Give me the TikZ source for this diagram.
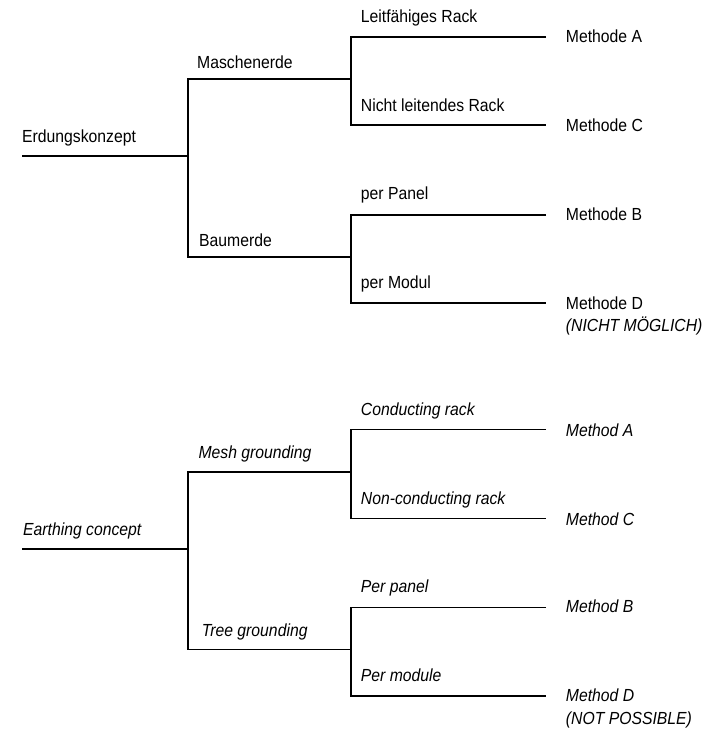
\documentclass[tikz,border=0pt]{standalone}
\usepackage{fontspec}
\setmainfont{Liberation Sans}[FakeStretch=0.9]
\usepackage{tikz}
\usetikzlibrary{positioning}

\tikzset{
  tree line/.style={line width=1.6pt, line join=miter},
  label text/.style={anchor=base west, inner sep=0pt, font=\fontsize{17.5}{20}\selectfont},
  label en/.style={label text, font=\fontsize{17.5}{20}\selectfont\itshape}
}

\begin{document}
\begin{tikzpicture}[x=1pt,y=1pt,yscale=-1]
\useasboundingbox (0,0) rectangle (727,733);

%German tree: junction points
\coordinate (ek) at (22,155.7);
\coordinate (ekJ) at (188,155.7);
\coordinate (me) at (188,79);
\coordinate (meJ) at (351,79);
\coordinate (bm) at (188,257);
\coordinate (bmJ) at (351,257);
\coordinate (lr) at (351,37);
\coordinate (lrE) at (546,37);
\coordinate (nl) at (351,125);
\coordinate (nlE) at (546,125);
\coordinate (pp) at (351,215);
\coordinate (ppE) at (546,215);
\coordinate (pm) at (351,303);
\coordinate (pmE) at (546,303);

%Straight Lines
\draw [tree line] (ek) -- (ekJ);
\draw [tree line] (meJ) -- (me) -- (bm) -- (bmJ);
\draw [tree line] (lrE) -- (lr) -- (nl) -- (nlE);
\draw [tree line] (ppE) -- (pp) -- (pm) -- (pmE);

% Text Node
\node [label text] (erdung) at (22,142.5) {Erdungskonzept};
\node [label text] (masch) at (197,68.3) {Maschenerde};
\node [label text] (baum) at (199,246.7) {Baumerde};
\node [label text] (leitf) at (360.7,22.7) {Leitfähiges Rack};
\node [label text] (nichtl) at (360.7,111.7) {Nicht leitendes Rack};
\node [label text] (perpan) at (360.7,199) {per Panel};
\node [label text] (permod) at (360.7,288.3) {per Modul};
\node [label text] (methA) at (565.7,42.3) {Methode A};
\node [label text] (methC) at (565.7,131.7) {Methode C};
\node [label text] (methB) at (565.7,220.7) {Methode B};
\node [label text] (methD) at (565.7,309.3) {Methode D};
\node [label en] (nichtm) at ([yshift=22.6pt]methD.base west) {(NICHT MÖGLICH)};

%English tree: junction points
\coordinate (ec) at (22,549);
\coordinate (ecJ) at (188,549);
\coordinate (mg) at (188,472);
\coordinate (mgJ) at (351,472);
\coordinate (tg) at (188,649.3);
\coordinate (tgJ) at (351,649.3);
\coordinate (cr) at (351,429.3);
\coordinate (crE) at (546,429.3);
\coordinate (nc) at (351,518.3);
\coordinate (ncE) at (546,518.3);
\coordinate (pl) at (351,607.3);
\coordinate (plE) at (546,607.3);
\coordinate (pu) at (351,696);
\coordinate (puE) at (546,696);

%Straight Lines
\draw [tree line] (ec) -- (ecJ);
\draw [tree line] (mgJ) -- (mg) -- (tg) -- (tgJ);
\draw [tree line] (crE) -- (cr) -- (nc) -- (ncE);
\draw [tree line] (plE) -- (pl) -- (pu) -- (puE);

% Text Node
\node [label en] (earth) at (23,535) {Earthing concept};
\node [label en] (mesh) at (198.3,458.3) {Mesh grounding};
\node [label en] (tree) at (201.7,636.7) {Tree grounding};
\node [label en] (cond) at (360.7,415) {Conducting rack};
\node [label en] (noncond) at (360.7,504) {Non-conducting rack};
\node [label en] (perpanel) at (360.7,592.3) {Per panel};
\node [label en] (permodule) at (360.7,681.7) {Per module};
\node [label en] (methodA) at (565.7,436) {Method A};
\node [label en] (methodC) at (565.7,525) {Method C};
\node [label en] (methodB) at (565.7,612.7) {Method B};
\node [label en] (methodD) at (565.7,701.7) {Method D};
\node [label en] (notposs) at ([yshift=22.6pt]methodD.base west) {(NOT POSSIBLE)};

\end{tikzpicture}
\end{document}
